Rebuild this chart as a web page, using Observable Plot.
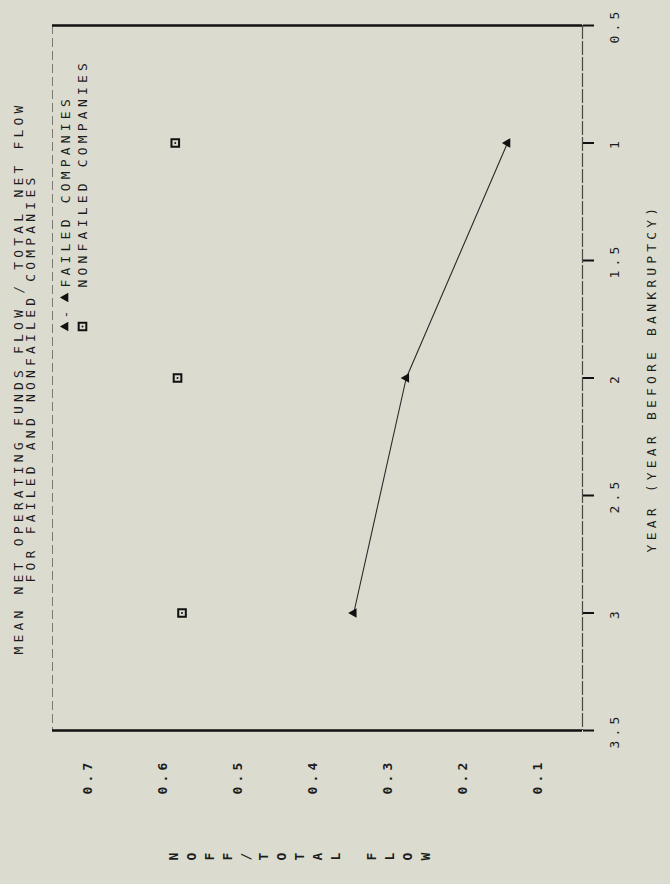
<!DOCTYPE html>
<html><head><meta charset="utf-8">
<script src="https://cdn.jsdelivr.net/npm/d3@7"></script>
<script src="https://cdn.jsdelivr.net/npm/@observablehq/plot@0.6"></script>
<style>
html,body{margin:0;padding:0;background:#dbdccf;}
#chart svg{display:block;}
</style></head>
<body><div id="chart"></div>
<script>
// ---- data (chart is a scanned page rotated 90°: years run down the right, values run right-to-left along the bottom)
const years = [1, 2, 3];
const failedValues = [0.14, 0.275, 0.345];
const nonfailedValues = [0.583, 0.58, 0.574];
const yearTicks = [0.5, 1, 1.5, 2, 2.5, 3, 3.5];
const yearTickLabels = ["0.5", "1", "1.5", "2", "2.5", "3", "3.5"];
const valueTicks = [0.7, 0.6, 0.5, 0.4, 0.3, 0.2, 0.1];
const valueTickLabels = ["0.7", "0.6", "0.5", "0.4", "0.3", "0.2", "0.1"];
const valueDomain = [0.7467, 0.04];
const titleLines = ["MEAN NET OPERATING FUNDS FLOW / TOTAL NET FLOW", "FOR FAILED AND NONFAILED COMPANIES"];
const legendLabels = ["FAILED COMPANIES", "NONFAILED COMPANIES"];
const xAxisTitle = "YEAR (YEAR BEFORE BANKRUPTCY)";
const yAxisTitle = "NOFF/TOTAL FLOW";

const ink = "#1c1c1c";
const rot = {rotate: -90, textAnchor: "middle", lineAnchor: "middle"};

const chart = Plot.plot({
  width: 670,
  height: 884,
  marginLeft: 52,
  marginRight: 88,
  marginTop: 25,
  marginBottom: 154,
  style: {background: "#dbdccf", fontFamily: "'DejaVu Sans Mono', monospace", fontSize: "13px", letterSpacing: "4.2px", color: ink},
  x: {domain: valueDomain, axis: null},
  y: {domain: [yearTicks[0], yearTicks[yearTicks.length - 1]], reverse: true},
  marks: [
    // frame: left dashed edge, right (year) axis line, thick top & bottom edges
    Plot.ruleX([valueDomain[0]], {stroke: "#7a7a72", strokeWidth: 1, strokeDasharray: "9,4"}),
    Plot.ruleX([valueDomain[1]], {stroke: "#4a4a46", strokeWidth: 1.2, strokeDasharray: "14,2"}),
    Plot.ruleY([yearTicks[0], yearTicks[yearTicks.length - 1]], {stroke: "#111", strokeWidth: 2.6}),
    Plot.axisY({anchor: "right", ticks: yearTicks, tickSize: 11, tickFormat: () => "", label: null, stroke: "#111", strokeWidth: 2}),
    // tick labels
    Plot.text(yearTicks, {y: d => d, text: (d, i) => yearTickLabels[i], frameAnchor: "right", dx: 32, fill: ink, ...rot}),
    Plot.text(valueTicks, {x: d => d, text: (d, i) => valueTickLabels[i], frameAnchor: "bottom", dy: 46, fill: ink, fontWeight: "bold", ...rot}),
    // axis titles
    Plot.text([xAxisTitle], {frameAnchor: "right", dx: 69, fill: ink, ...rot}),
    Plot.text([yAxisTitle], {frameAnchor: "bottom-left", dx: 125, dy: 130, textAnchor: "start", lineAnchor: "bottom", fill: ink, fontWeight: "bold"}),
    // title (two lines, reading bottom-to-top)
    Plot.text([titleLines.join("\n")], {frameAnchor: "left", dx: -27, lineHeight: 0.92, fill: ink, ...rot}),
    // legend
    Plot.text([legendLabels[0]], {frameAnchor: "top-left", dx: 13, dy: 262, rotate: -90, textAnchor: "start", lineAnchor: "middle", fill: ink}),
    Plot.text([legendLabels[1]], {frameAnchor: "top-left", dx: 30, dy: 262, rotate: -90, textAnchor: "start", lineAnchor: "middle", fill: ink}),
    Plot.text(["-"], {frameAnchor: "top-left", dx: 13, dy: 287, rotate: -90, textAnchor: "middle", lineAnchor: "middle", fill: ink}),
    Plot.dot(["failed"], {frameAnchor: "top-left", dx: 13, dy: 301, symbol: "triangle", r: 3.6, fill: "#111", rotate: -90}),
    Plot.dot(["failed"], {frameAnchor: "top-left", dx: 13, dy: 272, symbol: "triangle", r: 3.6, fill: "#111", rotate: -90}),
    Plot.dot(["nonfailed"], {frameAnchor: "top-left", dx: 30, dy: 301, symbol: "square", r: 4.3, stroke: "#111", strokeWidth: 2, fill: "none"}),
    Plot.dot(["nonfailed"], {frameAnchor: "top-left", dx: 30, dy: 301, r: 1, fill: "#111"}),
    // data
    Plot.line(years, {x: (d, i) => failedValues[i], y: d => d, stroke: "#2a2a2a", strokeWidth: 1.1}),
    Plot.dot(years, {x: (d, i) => failedValues[i], y: d => d, symbol: "triangle", r: 3.6, fill: "#111", rotate: -90}),
    Plot.dot(years, {x: (d, i) => nonfailedValues[i], y: d => d, symbol: "square", r: 4.3, stroke: "#111", strokeWidth: 2, fill: "none"}),
    Plot.dot(years, {x: (d, i) => nonfailedValues[i], y: d => d, r: 1, fill: "#111"})
  ]
});

// y-axis title: each character turned sideways, as on the scanned page
for (const t of chart.querySelectorAll("text")) {
  if (t.textContent === yAxisTitle) {
    t.setAttribute("rotate", "-90");
    t.style.letterSpacing = "10.2px";
  }
}
document.getElementById("chart").append(chart);
</script>
</body></html>
